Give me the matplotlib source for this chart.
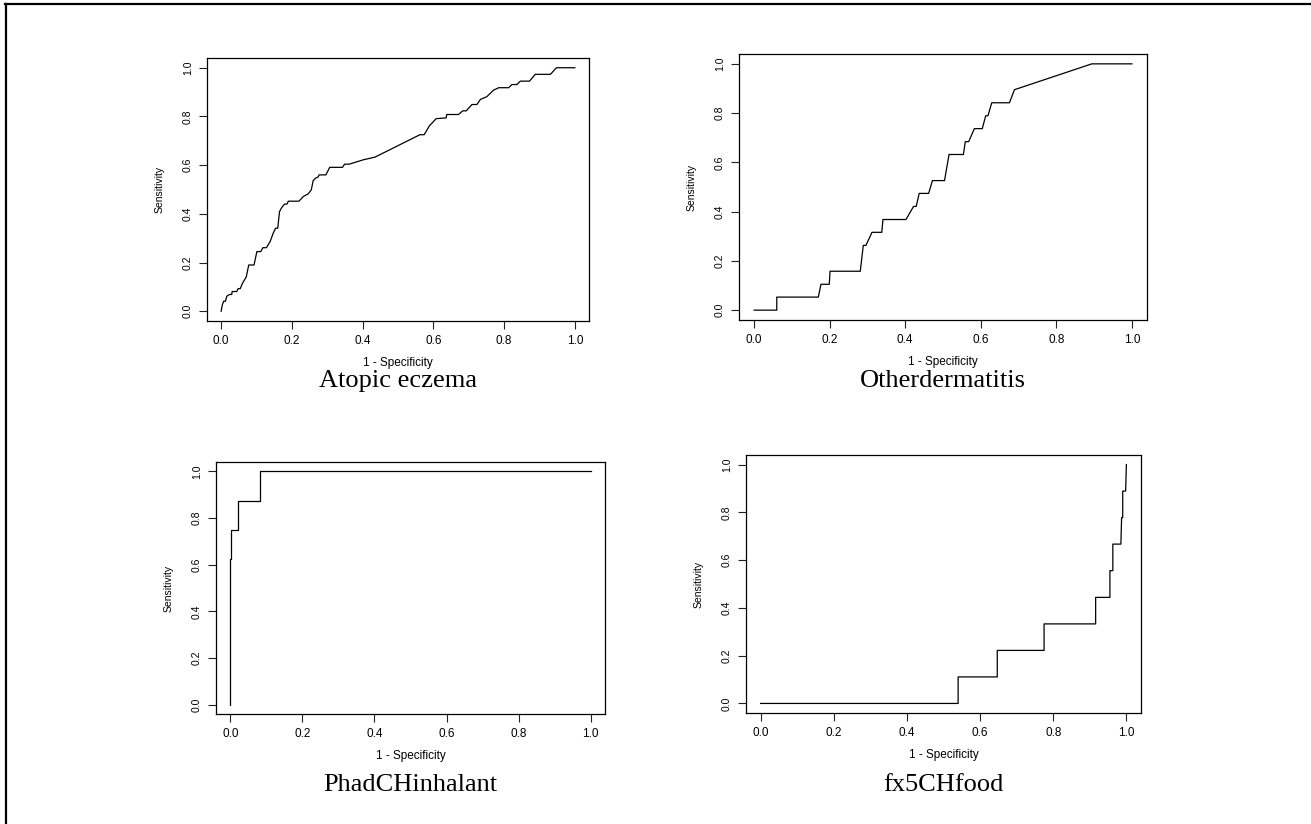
import matplotlib
matplotlib.use("Agg")
import matplotlib.pyplot as plt
from matplotlib.lines import Line2D

W, H = 1311, 824

# ROC curves: (1 - specificity, sensitivity)
atopic_fpr = [0, 0.003, 0.007, 0.012, 0.016, 0.024, 0.030, 0.031, 0.044, 0.048, 0.054,
              0.060, 0.071, 0.078, 0.093, 0.101, 0.112, 0.118, 0.128, 0.139, 0.147,
              0.154, 0.160, 0.165, 0.170, 0.179, 0.186, 0.190, 0.220, 0.232, 0.246,
              0.255, 0.260, 0.267, 0.274, 0.277, 0.296, 0.307, 0.343, 0.349, 0.362,
              0.402, 0.435, 0.562, 0.574, 0.589, 0.595, 0.608, 0.636, 0.638, 0.671,
              0.683, 0.693, 0.709, 0.723, 0.733, 0.751, 0.770, 0.785, 0.813, 0.822,
              0.836, 0.846, 0.872, 0.888, 0.931, 0.948, 1.0]
atopic_sens = [0, 0.025, 0.041, 0.041, 0.062, 0.069, 0.069, 0.081, 0.081, 0.093, 0.093,
               0.114, 0.141, 0.190, 0.190, 0.245, 0.245, 0.261, 0.261, 0.288, 0.320,
               0.341, 0.341, 0.409, 0.423, 0.440, 0.440, 0.452, 0.452, 0.471, 0.482,
               0.499, 0.536, 0.547, 0.551, 0.560, 0.560, 0.591, 0.591, 0.604, 0.604,
               0.622, 0.633, 0.725, 0.725, 0.762, 0.771, 0.791, 0.794, 0.808, 0.808,
               0.823, 0.823, 0.849, 0.849, 0.870, 0.881, 0.908, 0.918, 0.918, 0.931,
               0.931, 0.945, 0.945, 0.973, 0.973, 1.0, 1.0]

other_fpr = [0, 0.060, 0.060, 0.170, 0.177, 0.199, 0.201, 0.281, 0.289, 0.296, 0.312,
             0.338, 0.341, 0.402, 0.422, 0.429, 0.437, 0.462, 0.472, 0.504, 0.516,
             0.554, 0.559, 0.568, 0.583, 0.604, 0.613, 0.619, 0.629, 0.676, 0.689,
             0.894, 1.0]
other_sens = [0, 0, 0.053, 0.053, 0.105, 0.105, 0.158, 0.158, 0.263, 0.263, 0.316,
              0.316, 0.368, 0.368, 0.421, 0.421, 0.474, 0.474, 0.526, 0.526, 0.632,
              0.632, 0.684, 0.684, 0.737, 0.737, 0.789, 0.789, 0.842, 0.842, 0.895,
              1.0, 1.0]

phad_fpr = [0, 0, 0.003, 0.003, 0.020, 0.020, 0.083, 0.083, 1.0]
phad_sens = [0, 0.625, 0.625, 0.75, 0.75, 0.875, 0.875, 1.0, 1.0]

fx5_fpr = [0, 0.540, 0.540, 0.647, 0.647, 0.775, 0.775, 0.916, 0.916, 0.955, 0.955,
           0.963, 0.963, 0.985, 0.987, 0.990, 0.990, 0.998, 1.0]
fx5_sens = [0, 0, 0.111, 0.111, 0.222, 0.222, 0.333, 0.333, 0.444, 0.444, 0.556,
            0.556, 0.667, 0.667, 0.778, 0.778, 0.889, 0.889, 1.0]

titles = ["Atopic eczema", "Otherdermatitis", "PhadCHinhalant", "fx5CHfood"]
ticks = [0.0, 0.2, 0.4, 0.6, 0.8, 1.0]
tick_labels = ["0.0", "0.2", "0.4", "0.6", "0.8", "1.0"]

# axes boxes in pixels: left, right, top, bottom
boxes = [(207, 589, 58, 321), (739, 1147, 54, 320),
         (216, 605, 462, 714), (746, 1141, 455, 713)]
title_y = [381, 381, 785, 785]
curves = [(atopic_fpr, atopic_sens), (other_fpr, other_sens),
          (phad_fpr, phad_sens), (fx5_fpr, fx5_sens)]

plt.rcParams['font.family'] = ['Liberation Sans', 'DejaVu Sans']

fig = plt.figure(figsize=(W / 100, H / 100), dpi=100)

for (l, r, t, b), (fpr, sens), title, ty in zip(boxes, curves, titles, title_y):
    ax = fig.add_axes([l / W, 1 - b / H, (r - l) / W, (b - t) / H])
    ax.plot(fpr, sens, color="black", lw=0.9)
    ax.set_xlim(-0.04, 1.04)
    ax.set_ylim(-0.04, 1.04)
    ax.set_xticks(ticks)
    ax.set_xticklabels(tick_labels)
    ax.set_yticks(ticks)
    ax.set_yticklabels(tick_labels, rotation=90, va="center")
    ax.tick_params(length=6, width=0.8, pad=4, color="#222222")
    ax.tick_params(axis="x", labelsize=8.5)
    ax.tick_params(axis="y", labelsize=7.5)
    for s in ax.spines.values():
        s.set_linewidth(0.9)
    ax.set_xlabel("1 - Specificity", fontsize=8.5, labelpad=7)
    ax.set_ylabel("Sensitivity", fontsize=7.5, labelpad=13)
    fig.text((l + r) / 2 / W, 1 - ty / H, title, ha="center", va="center",
             fontsize=19, family="Liberation Serif")

# page frame (top and left edges only)
fig.add_artist(Line2D([5 / W, 1], [1 - 4 / H, 1 - 4 / H], color="black", lw=1.6))
fig.add_artist(Line2D([6 / W, 6 / W], [0, 1 - 4 / H], color="black", lw=1.6))

fig.savefig("out.png", dpi=100)
